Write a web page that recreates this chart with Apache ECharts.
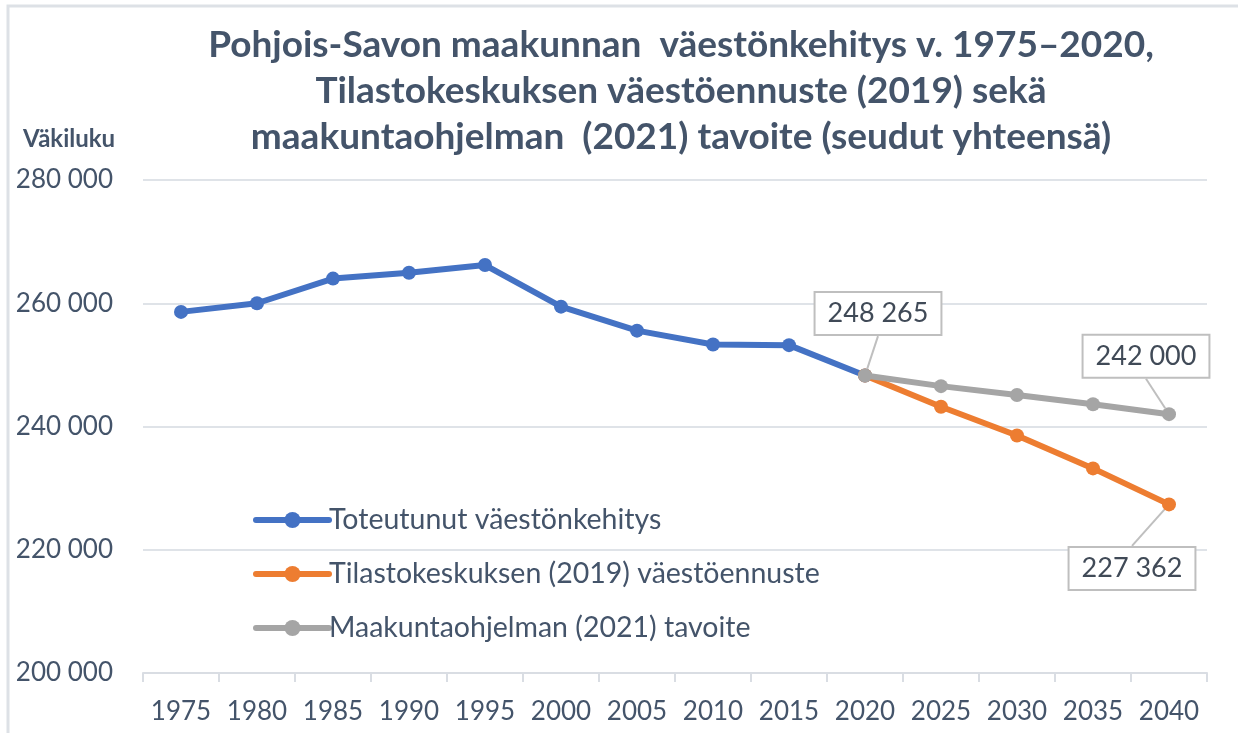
<!DOCTYPE html>
<html>
<head>
<meta charset="utf-8">
<script src="https://cdn.jsdelivr.net/npm/echarts@6/dist/echarts.min.js"></script>
<style>
html,body{margin:0;padding:0;background:#fff;}
#chart{width:1238px;height:733px;}
</style>
</head>
<body>
<div id="chart"></div>
<script>
const titleLines = [
  'Pohjois-Savon maakunnan  väestönkehitys v. 1975–2020,',
  'Tilastokeskuksen väestöennuste (2019) sekä',
  'maakuntaohjelman  (2021) tavoite (seudut yhteensä)'
];
const yAxisTitle = 'Väkiluku';
const years = ['1975','1980','1985','1990','1995','2000','2005','2010','2015','2020','2025','2030','2035','2040'];
const seriesNames = ['Toteutunut väestönkehitys','Tilastokeskuksen (2019) väestöennuste','Maakuntaohjelman (2021) tavoite'];
const actual   = [258600, 260000, 264000, 264950, 266200, 259450, 255550, 253300, 253200, 248265, null, null, null, null];
const forecast = [null, null, null, null, null, null, null, null, null, 248265, 243200, 238550, 233200, 227362];
const target   = [null, null, null, null, null, null, null, null, null, 248265, 246550, 245100, 243600, 242000];
const yTicks = {min: 200000, max: 280000, interval: 20000};
const labelled = [
  {series: 2, index: 9, dx: 13, dy: -62},
  {series: 2, index: 13, dx: -23, dy: -58},
  {series: 1, index: 13, dx: -37, dy: 64}
];

const FONT = 'Lato';
const TXT = '#44546a';
const fmt = v => String(v).replace(/\B(?=(\d{3})+(?!\d))/g, ' ');
const colors = ['#4472c4', '#ed7d31', '#a5a5a5'];
const values = [actual, forecast, target];

function buildSeries(si) {
  const marks = labelled.filter(l => l.series === si);
  return {
    name: seriesNames[si],
    type: 'line',
    data: values[si].map((v, i) => {
      const m = marks.find(l => l.index === i);
      if (!m) return v;
      return {value: v, label: {show: true}};
    }),
    symbol: 'circle',
    symbolSize: 14,
    connectNulls: false,
    z: 2 + si,
    lineStyle: {width: 6, color: colors[si], cap: 'round', join: 'round'},
    itemStyle: {color: colors[si]},
    label: {
      show: false,
      position: 'inside',
      formatter: p => fmt(p.value),
      fontFamily: FONT,
      fontSize: 27,
      color: '#404a57',
      backgroundColor: '#ffffff',
      borderColor: '#bfbfbf',
      borderWidth: 2,
      padding: [8, 12, 6, 12]
    },
    labelLine: {show: true, lineStyle: {color: '#bfbfbf', width: 2}},
    labelLayout: function (p) {
      const m = marks.find(l => l.index === p.dataIndex);
      if (!m) return {};
      return {dx: m.dx, dy: m.dy};
    },
    emphasis: {disabled: true},
    animation: false
  };
}

const chart = echarts.init(document.getElementById('chart'), null, {renderer: 'canvas'});
chart.setOption({
  backgroundColor: '#ffffff',
  animation: false,
  title: [
    {
      text: titleLines.join('\n'),
      left: 676,
      top: 17,
      textAlign: 'center',
      textStyle: {fontFamily: FONT, fontSize: 37, fontWeight: 'bold', color: TXT, lineHeight: 46}
    },
    {
      text: yAxisTitle,
      left: 18,
      top: 122,
      textStyle: {fontFamily: FONT, fontSize: 24, fontWeight: 'bold', color: TXT}
    }
  ],
  graphic: [
    {type: 'polyline', shape: {points: [[8, 740], [8, 6], [1240, 6]]}, style: {stroke: '#dde1e6', lineWidth: 3, fill: null}, silent: true}
  ],
  legend: {
    orient: 'vertical',
    left: 248,
    top: 500,
    itemWidth: 73,
    itemHeight: 20,
    itemGap: 24,
    data: seriesNames,
    lineStyle: {width: 6},
    textStyle: {fontFamily: FONT, fontSize: 28.5, color: TXT, lineHeight: 30, padding: [0, 0, 0, -5]}
  },
  grid: {left: 143, right: 31, top: 180, bottom: 60, containLabel: false},
  xAxis: {
    type: 'category',
    data: years,
    boundaryGap: true,
    axisLine: {lineStyle: {color: '#d9dde3', width: 2}},
    axisTick: {show: true, length: 9, lineStyle: {color: '#d9dde3', width: 2}},
    axisLabel: {fontFamily: FONT, fontSize: 26, color: TXT, margin: 26, interval: 0}
  },
  yAxis: {
    type: 'value',
    min: yTicks.min,
    max: yTicks.max,
    interval: yTicks.interval,
    axisLine: {show: false},
    axisTick: {show: false},
    splitLine: {lineStyle: {color: '#dfe3e8', width: 2}},
    axisLabel: {fontFamily: FONT, fontSize: 26, color: TXT, margin: 30, formatter: v => fmt(v)}
  },
  series: [buildSeries(0), buildSeries(1), buildSeries(2)]
});
</script>
</body>
</html>
